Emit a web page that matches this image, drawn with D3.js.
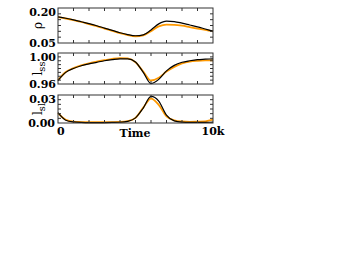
<!DOCTYPE html>
<html><head><meta charset="utf-8">
<script src="https://cdn.jsdelivr.net/npm/d3@7"></script>
<style>body{margin:0;background:#fff}svg{display:block}</style>
</head><body>
<script>
const time = [0,500,1000,1500,2000,2500,3000,3500,4000,4500,5000,5500,6000,6500,7000,7500,8000,8500,9000,9500,10000];
const rhoBlack  = [0.162,0.156,0.149,0.141,0.133,0.124,0.114,0.104,0.094,0.086,0.081,0.085,0.106,0.132,0.144,0.142,0.135,0.127,0.119,0.110,0.101];
const rhoOrange = [0.161,0.155,0.148,0.140,0.131,0.122,0.112,0.102,0.092,0.084,0.079,0.083,0.101,0.121,0.129,0.128,0.124,0.118,0.112,0.106,0.100];
const lssBlack  = [0.9645,0.975,0.980,0.9835,0.986,0.988,0.990,0.9915,0.9925,0.9925,0.9885,0.975,0.9605,0.966,0.977,0.984,0.988,0.990,0.9915,0.992,0.9925];
const lssOrange = [0.965,0.9755,0.9805,0.984,0.9867,0.9888,0.9907,0.9925,0.9935,0.993,0.988,0.976,0.9645,0.968,0.976,0.982,0.9865,0.989,0.990,0.9905,0.9905];
const lslBlack  = [0.011,0.003,0.0012,0.0007,0.0005,0.0005,0.0005,0.0006,0.0008,0.0018,0.0055,0.016,0.0285,0.0235,0.0085,0.0022,0.0009,0.0006,0.0006,0.0007,0.0009];
const lslOrange = [0.0105,0.0035,0.0015,0.001,0.0008,0.0008,0.0008,0.0009,0.0011,0.002,0.0055,0.0165,0.0262,0.0195,0.007,0.0028,0.0016,0.0013,0.0015,0.0018,0.0035];
const xTickLabels = ["0","10k"];
const yDomains = [[0.05,0.20],[0.96,1.00],[0.00,0.03]];
const yTickLabels = [["0.05","0.20"],["0.96","1.00"],["0.00","0.03"]];
const yMinorSteps = [0.025,0.005,0.005];

const W=346,H=277;
const svg=d3.select("body").append("svg").attr("width",W).attr("height",H);
const x=d3.scaleLinear().domain([0,10000]).range([58,213]);
const panels=[
  {top:8,bottom:43,black:rhoBlack,orange:rhoOrange,title:"ρ",sub:null},
  {top:53,bottom:84,black:lssBlack,orange:lssOrange,title:"l",sub:"ss"},
  {top:95,bottom:123,black:lslBlack,orange:lslOrange,title:"l",sub:"sl"}
];
const font="'DejaVu Serif', serif";
panels.forEach((p,i)=>{
  const y=d3.scaleLinear().domain(yDomains[i]).range([p.bottom,p.top]);
  const g=svg.append("g");
  const line=d3.line().x((d,j)=>x(time[j])).y(d=>y(d)).curve(d3.curveMonotoneX);
  g.append("path").attr("d",line(p.orange)).attr("fill","none").attr("stroke","#ff9900").attr("stroke-width",1.8);
  g.append("path").attr("d",line(p.black)).attr("fill","none").attr("stroke","#000").attr("stroke-width",1.2);
  const xt=d3.range(1000,10000,1000);
  xt.forEach(t=>{
    g.append("line").attr("x1",x(t)).attr("x2",x(t)).attr("y1",p.top).attr("y2",p.top+3).attr("stroke","#333");
    g.append("line").attr("x1",x(t)).attr("x2",x(t)).attr("y1",p.bottom).attr("y2",p.bottom-3).attr("stroke","#333");
  });
  const d=yDomains[i];
  const yt=d3.range(d[0]+yMinorSteps[i],d[1]-1e-9,yMinorSteps[i]);
  yt.forEach(v=>{
    g.append("line").attr("x1",58).attr("x2",61).attr("y1",y(v)).attr("y2",y(v)).attr("stroke","#333");
    g.append("line").attr("x1",213).attr("x2",210).attr("y1",y(v)).attr("y2",y(v)).attr("stroke","#333");
  });
  g.append("rect").attr("x",58).attr("y",p.top).attr("width",155).attr("height",p.bottom-p.top)
    .attr("fill","none").attr("stroke","#333").attr("stroke-width",1);
  g.append("text").attr("x",56).attr("y",p.top).attr("dy","0.72em").attr("text-anchor","end")
    .attr("font-family",font).attr("font-weight","bold").attr("font-size",11).text(yTickLabels[i][1]);
  g.append("text").attr("x",i===2?55:56).attr("y",p.bottom).attr("dy","0.35em").attr("text-anchor","end")
    .attr("font-family",font).attr("font-weight","bold").attr("font-size",11).text(yTickLabels[i][0]);
  const cy=(p.top+p.bottom)/2;
  const tt=g.append("text").attr("transform",`translate(42,${cy}) rotate(-90)`).attr("text-anchor","middle")
    .attr("font-family",font).attr("font-size",12).text(p.title);
  if(p.sub) tt.append("tspan").attr("dy","0.3em").attr("font-size",10).text(p.sub);
});
svg.append("text").attr("x",x(0)-1).attr("y",135).attr("text-anchor","start").attr("font-family",font).attr("font-weight","bold").attr("font-size",11).text(xTickLabels[0]);
svg.append("text").attr("x",x(10000)).attr("y",135).attr("text-anchor","middle").attr("font-family",font).attr("font-weight","bold").attr("font-size",11).text(xTickLabels[1]);
svg.append("text").attr("x",135).attr("y",137).attr("text-anchor","middle").attr("font-family",font).attr("font-weight","bold").attr("font-size",11).text("Time");
</script>
</body></html>
